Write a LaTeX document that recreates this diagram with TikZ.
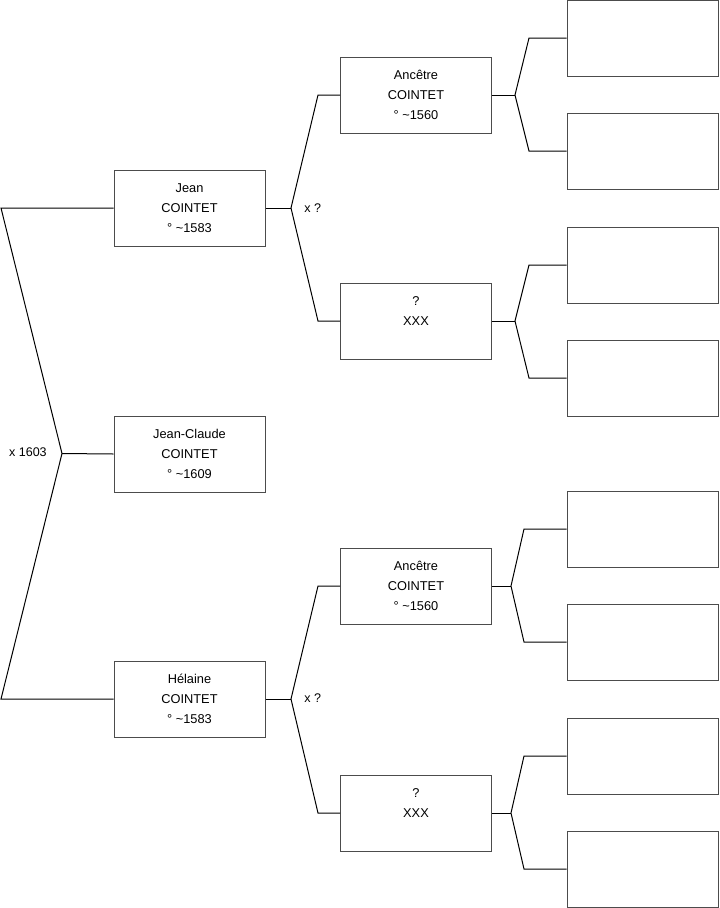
\documentclass[tikz,border=0pt]{standalone}
\usepackage{fontspec}
\setmainfont{Liberation Sans}
\begin{document}
\begin{tikzpicture}[x=0.75pt,y=-0.75pt,
  person/.style={draw=black!70, line width=0.75pt, fill=white, minimum width=113.25pt, minimum height=57pt, inner sep=0pt, align=center, font=\fontsize{9.6}{15}\selectfont},
  link/.style={draw=black, line width=0.75pt},
  lbl/.style={font=\fontsize{9.4}{11}\selectfont, inner sep=0pt}]
\useasboundingbox (0,0) rectangle (719,908);
% persons
\node[person] (jean) at (189.5,208) {Jean\\COINTET\\° \textasciitilde1583};
\node[person] (jc) at (189.5,454) {Jean-Claude\\COINTET\\° \textasciitilde1609};
\node[person] (hel) at (189.5,699) {Hélaine\\COINTET\\° \textasciitilde1583};
\node[person] (a1) at (416,95) {Ancêtre\\COINTET\\° \textasciitilde1560};
\node[person] (q1) at (416,321) {?\\XXX\\\mbox{}};
\node[person] (a2) at (416,586) {Ancêtre\\COINTET\\° \textasciitilde1560};
\node[person] (q2) at (416,813) {?\\XXX\\\mbox{}};
\node[person] (r1) at (642.5,38) {};
\node[person] (r2) at (642.5,151) {};
\node[person] (r3) at (642.5,265) {};
\node[person] (r4) at (642.5,378) {};
\node[person] (r5) at (642.5,529) {};
\node[person] (r6) at (642.5,642) {};
\node[person] (r7) at (642.5,756) {};
\node[person] (r8) at (642.5,869) {};
% junction points
\coordinate (v0) at (62,453.5);
\coordinate (c0a) at (1,208);
\coordinate (c0b) at (1,699);
\coordinate (v1) at (291,208);
\coordinate (c1a) at (318,95);
\coordinate (c1b) at (318,321);
\coordinate (v2) at (291,699);
\coordinate (c2a) at (318,586);
\coordinate (c2b) at (318,813);
\coordinate (v3) at (515,95);
\coordinate (c3a) at (529,38);
\coordinate (c3b) at (529,151);
\coordinate (v4) at (515,321);
\coordinate (c4a) at (529,265);
\coordinate (c4b) at (529,378);
\coordinate (v5) at (511,586);
\coordinate (c5a) at (524,529);
\coordinate (c5b) at (524,642);
\coordinate (v6) at (511,813);
\coordinate (c6a) at (524,756);
\coordinate (c6b) at (524,869);
% connectors
\draw[link] (jean.west) -- (c0a) -- (v0) -- (c0b) -- (hel.west);
\draw[link] (v0) -- (jc.west);
\draw[link] (jean.east) -- (v1);
\draw[link] (a1.west) -- (c1a) -- (v1) -- (c1b) -- (q1.west);
\draw[link] (hel.east) -- (v2);
\draw[link] (a2.west) -- (c2a) -- (v2) -- (c2b) -- (q2.west);
\draw[link] (a1.east) -- (v3);
\draw[link] (r1.west) -- (c3a) -- (v3) -- (c3b) -- (r2.west);
\draw[link] (q1.east) -- (v4);
\draw[link] (r3.west) -- (c4a) -- (v4) -- (c4b) -- (r4.west);
\draw[link] (a2.east) -- (v5);
\draw[link] (r5.west) -- (c5a) -- (v5) -- (c5b) -- (r6.west);
\draw[link] (q2.east) -- (v6);
\draw[link] (r7.west) -- (c6a) -- (v6) -- (c6b) -- (r8.west);
% labels
\node[lbl, anchor=east] (m0) at (47,452) {x 1603};
\node[lbl, anchor=west] (m1) at (304,208) {x ?};
\node[lbl, anchor=west] (m2) at (304,698) {x ?};
\end{tikzpicture}
\end{document}
